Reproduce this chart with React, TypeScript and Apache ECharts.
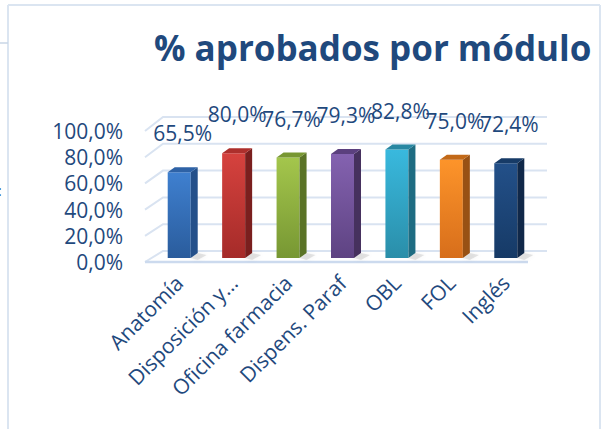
import React, { useEffect, useRef } from 'react';
import * as echarts from 'echarts';

const title = '% aprobados por módulo';
const categories = ['Anatomía', 'Disposición y…', 'Oficina farmacia', 'Dispens. Paraf', 'OBL', 'FOL', 'Inglés'];
const values = [65.5, 80.0, 76.7, 79.3, 82.8, 75.0, 72.4];
const yTicks = [0, 20, 40, 60, 80, 100];

// [front top, front bottom, side, top face]
const palette = [
  ['#3f80d0', '#2a5c9c', '#24508a', '#2e62a6'],
  ['#d6423e', '#a52b29', '#7a1f1e', '#ad2f2c'],
  ['#a4c64c', '#779733', '#5a7326', '#789732'],
  ['#8462b0', '#5e4382', '#46315e', '#5b407e'],
  ['#39b9de', '#2a8ea9', '#1e6c82', '#2887a2'],
  ['#fd942a', '#d76e1b', '#985114', '#c26918'],
  ['#235089', '#163a66', '#102849', '#173b67'],
];

const TXT = '#1F497D';
const FONT = 'Open Sans';
const fmt = (v: number) => v.toFixed(1).replace('.', ',') + '%';

export default function App() {
  const ref = useRef<HTMLDivElement>(null);
  useEffect(() => {
    const chart = echarts.init(ref.current as HTMLDivElement, null, { renderer: 'svg' });
    const option: any = {
      animation: false,
      backgroundColor: '#ffffff',
      title: {
        text: title,
        left: 149,
        top: 25,
        textStyle: { fontSize: 35, fontWeight: 'bold', fontFamily: FONT, color: TXT },
      },
      graphic: [
        { type: 'line', shape: { x1: 8, y1: 5, x2: 600, y2: 5 }, style: { stroke: '#dbe5f1', lineWidth: 2 } },
        { type: 'line', shape: { x1: 8, y1: 5, x2: 8, y2: 429 }, style: { stroke: '#dbe5f1', lineWidth: 2 } },
        { type: 'line', shape: { x1: 600, y1: 5, x2: 600, y2: 429 }, style: { stroke: '#dbe5f1', lineWidth: 2 } },
        { type: 'line', shape: { x1: 0, y1: 43, x2: 8, y2: 43 }, style: { stroke: '#c9d6e6', lineWidth: 1.5 } },
        { type: 'text', x: -2, y: 183, style: { text: ':', fontSize: 14, fontFamily: FONT, fill: TXT } },
      ],
      grid: { left: 152, width: 381, top: 131, height: 131 },
      xAxis: {
        type: 'category',
        data: categories,
        axisLine: { show: false },
        axisTick: { show: false },
        axisLabel: { rotate: 45, interval: 0, fontSize: 21, fontFamily: FONT, color: TXT, margin: 17 },
      },
      yAxis: {
        type: 'value',
        min: 0,
        max: 100,
        interval: 20,
        axisLine: { show: false },
        axisTick: { show: false },
        splitLine: { show: false },
        axisLabel: { formatter: (v: number) => fmt(v), fontSize: 21, fontFamily: FONT, color: TXT, margin: 29 },
      },
      series: [
        {
          type: 'custom',
          silent: true,
          z: 1,
          data: yTicks.map((t) => [0, t]),
          encode: { x: 0, y: 1 },
          renderItem: (params: any, api: any) => {
            const cs = params.coordSys;
            const v = api.value(1);
            const yF = api.coord([0, v])[1];
            const y0 = cs.y + cs.height;
            const yB = yF - 11 - (y0 - yF) * 0.023;
            const xF = cs.x - 7;
            const xB = cs.x + 11;
            const xR = cs.x + cs.width + 14;
            const children: any[] = [
              {
                type: 'polyline',
                shape: { points: [[xF, yF], [xB, yB], [xR, yB]] },
                style: { stroke: '#d9e3f1', lineWidth: 2, fill: 'none' },
              },
            ];
            if (v === 0) {
              children.push({
                type: 'line',
                shape: { x1: xF, y1: yF, x2: cs.x + cs.width - 5, y2: yF },
                style: { stroke: '#ccdaee', lineWidth: 2.5 },
              });
            }
            return { type: 'group', children };
          },
        },
        {
          type: 'custom',
          z: 2,
          data: values.map((v, i) => [i, v]),
          encode: { x: 0, y: 1 },
          renderItem: (params: any, api: any) => {
            const i = api.value(0);
            const v = api.value(1);
            const top = api.coord([i, v]);
            const base = api.coord([i, 0]);
            const bw = 23;
            const d = 7;
            const dh = 5;
            const lift = 4;
            const xl = top[0] - bw / 2;
            const xr = top[0] + bw / 2;
            const yt = top[1] - lift;
            const yb = base[1] - lift;
            const c = palette[i % palette.length];
            return {
              type: 'group',
              children: [
                {
                  type: 'polygon',
                  shape: { points: [[xr, yb], [xr + d, yb - dh], [xr + d + 9, yb - 3], [xr + 7, yb + 2]] },
                  style: { fill: 'rgba(110,110,110,0.18)', shadowBlur: 4, shadowColor: 'rgba(0,0,0,0.25)' },
                },
                {
                  type: 'rect',
                  shape: { x: xl, y: yt, width: bw, height: yb - yt },
                  style: {
                    fill: new echarts.graphic.LinearGradient(0, 0, 0, 1, [
                      { offset: 0, color: c[0] },
                      { offset: 1, color: c[1] },
                    ]),
                  },
                },
                {
                  type: 'polygon',
                  shape: { points: [[xr, yt], [xr + d, yt - dh], [xr + d, yb - dh], [xr, yb]] },
                  style: { fill: c[2] },
                },
                {
                  type: 'polygon',
                  shape: { points: [[xl, yt], [xl + d, yt - dh], [xr + d, yt - dh], [xr, yt]] },
                  style: { fill: c[3] },
                },
                {
                  type: 'text',
                  x: top[0] + 3.5,
                  y: yt - 39,
                  style: {
                    text: fmt(v),
                    textAlign: 'center',
                    textVerticalAlign: 'middle',
                    align: 'center',
                    verticalAlign: 'middle',
                    fontSize: 21,
                    fontFamily: FONT,
                    fill: TXT,
                  },
                },
              ],
            };
          },
        },
      ],
    };
    chart.setOption(option);
    return () => chart.dispose();
  }, []);
  return (
    <div
      ref={ref}
      style={{ position: 'fixed', left: 0, top: 0, width: 607, height: 429, background: '#fff' }}
    />
  );
}
